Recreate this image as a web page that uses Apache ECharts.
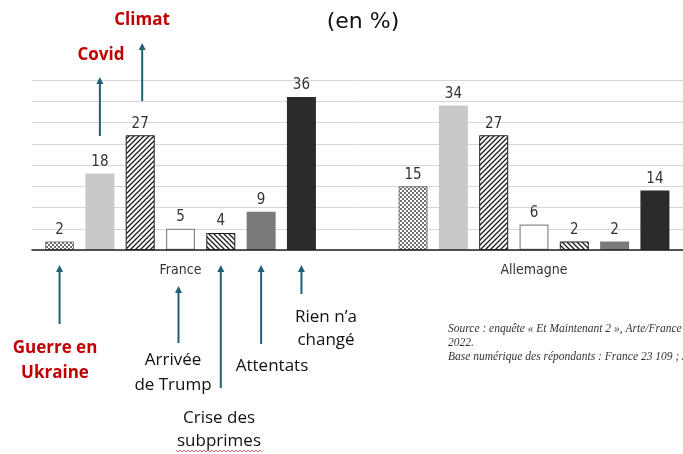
<!DOCTYPE html>
<html><head><meta charset="utf-8">
<script src="https://cdn.jsdelivr.net/npm/echarts@6/dist/echarts.min.js"></script>
<style>html,body{margin:0;padding:0;background:#fff}#c{width:683px;height:454px}</style>
</head><body><div id="c"></div>
<script>
// ---- data ----
const categories = ['France', 'Allemagne'];
const seriesNames = ['Guerre en Ukraine', 'Covid', 'Climat', 'Arrivée de Trump', 'Crise des subprimes', 'Attentats', "Rien n’a changé"];
const ukraine   = [2, 15];
const covid     = [18, 34];
const climat    = [27, 27];
const trump     = [5, 6];
const subprimes = [4, 2];
const attentats = [9, 2];
const rien      = [36, 14];
const yTicks = { min: 0, max: 40, interval: 5 };

// ---- patterns ----
function mkCanvas(w, h, draw) { const c = document.createElement('canvas'); c.width = w; c.height = h; const g = c.getContext('2d'); draw(g); return c; }
const checker = mkCanvas(4, 4, g => { g.fillStyle = '#fff'; g.fillRect(0,0,4,4); g.fillStyle = '#707070'; g.fillRect(0,0,2,2); g.fillRect(2,2,2,2); });
function hatch(dir) {
  return mkCanvas(5, 5, g => {
    g.fillStyle = '#fff'; g.fillRect(0,0,5,5);
    g.strokeStyle = '#1e1e1e'; g.lineWidth = 1.3;
    g.beginPath();
    if (dir > 0) { g.moveTo(-1,6); g.lineTo(6,-1); g.moveTo(-1,1); g.lineTo(1,-1); g.moveTo(4,6); g.lineTo(6,4); }
    else { g.moveTo(-1,-1); g.lineTo(6,6); g.moveTo(4,-1); g.lineTo(6,1); g.moveTo(-1,4); g.lineTo(1,6); }
    g.stroke();
  });
}
const styles = [
  { color: { image: checker, repeat: 'repeat' }, borderColor: '#7c7c7c', borderWidth: 1 },
  { color: '#c9c9c9' },
  { color: { image: hatch(1), repeat: 'repeat' }, borderColor: '#1e1e1e', borderWidth: 1 },
  { color: '#ffffff', borderColor: '#8a8a8a', borderWidth: 1.2 },
  { color: { image: hatch(-1), repeat: 'repeat' }, borderColor: '#1e1e1e', borderWidth: 1 },
  { color: '#7a7a7a' },
  { color: '#2b2b2b' }
];
const values = [ukraine, covid, climat, trump, subprimes, attentats, rien];
const narrow = "'Liberation Sans Narrow','DejaVu Sans Condensed',sans-serif";

const chart = echarts.init(document.getElementById('c'), null, { renderer: 'canvas' });
const option = {
  animation: false,
  backgroundColor: '#ffffff',
  grid: [
    { left: 32, right: 0, top: 80, height: 170, outerBoundsMode: 'none' },
    { left: 3.75, width: 707, top: 80, height: 170, outerBoundsMode: 'none' }
  ],
  xAxis: [
    { gridIndex: 0, type: 'category', data: [''], axisLine: { lineStyle: { color: '#222', width: 1.5 } }, axisTick: { show: false }, axisLabel: { show: false }, z: 5 },
    { gridIndex: 1, type: 'category', data: categories, axisLine: { show: false }, axisTick: { show: false },
      axisLabel: { margin: 13, color: '#333', fontSize: 14, fontFamily: narrow } }
  ],
  yAxis: [
    { gridIndex: 0, type: 'value', min: yTicks.min, max: yTicks.max, interval: yTicks.interval,
      axisLabel: { show: false }, axisLine: { show: false }, axisTick: { show: false },
      splitLine: { lineStyle: { color: '#d6d6d6', width: 1 } } },
    { gridIndex: 1, type: 'value', min: yTicks.min, max: yTicks.max, interval: yTicks.interval, show: false }
  ],
  series: values.map((v, i) => ({
    name: seriesNames[i], type: 'bar', xAxisIndex: 1, yAxisIndex: 1, data: v,
    barWidth: 29, barGap: '39%', itemStyle: styles[i],
    label: { show: true, position: 'top', distance: 4, color: '#333', fontSize: 15, fontFamily: narrow }
  }))
};
chart.setOption(option);

// ---- annotations ----
function barX(si, fallbackOffset) {
  try {
    const lay = chart.getModel().getSeriesByIndex(si).getData().getItemLayout(0);
    return lay.x + lay.width / 2;
  } catch (e) {
    return chart.convertToPixel({ xAxisIndex: 1 }, categories[0]) + fallbackOffset;
  }
}
const teal = '#215f74';
const red = '#c00000';
const arrowSpec = [
  { s: 0, y1: 324, y2: 265 },
  { s: 1, y1: 136, y2: 77 },
  { s: 2, y1: 101, y2: 43, dx: 2 },
  { s: 3, y1: 343, y2: 286, dx: -2 },
  { s: 4, y1: 388, y2: 265 },
  { s: 5, y1: 344, y2: 265 },
  { s: 6, y1: 294, y2: 265 }
];
const graphics = [];
arrowSpec.forEach(a => {
  const x = barX(a.s, (a.s - 3) * 40.3) + (a.dx || 0);
  graphics.push({ type: 'line', shape: { x1: x, y1: a.y1, x2: x, y2: a.y2 + 5 }, style: { stroke: teal, lineWidth: 2 } });
  graphics.push({ type: 'polygon', shape: { points: [[x, a.y2], [x - 3.5, a.y2 + 7], [x + 3.5, a.y2 + 7]] }, style: { fill: teal } });
});
const sans = "'Open Sans','DejaVu Sans',sans-serif";
function txt(t, x, y, size, color, weight, family) {
  graphics.push({ type: 'text', style: { text: t, x: x, y: y, fill: color, align: 'center', verticalAlign: 'middle',
    font: (weight || 'normal') + ' ' + size + 'px ' + (family || sans) } });
}
txt('(en %)', 363, 22, 22, '#111', 'normal', "'DejaVu Sans',sans-serif");
txt('Climat', 142, 20, 17, red, 'bold');
txt('Covid', 101, 55, 17, red, 'bold');
txt('Guerre en', 55, 348, 17, red, 'bold');
txt('Ukraine', 55, 373, 17, red, 'bold');
txt('Arrivée', 173, 360, 17, '#111');
txt('de Trump', 173, 385, 17, '#111');
txt('Crise des', 219, 418, 17, '#111');
txt('subprimes', 219, 441, 17, '#111');
txt('Attentats', 272, 366, 17, '#111');
txt('Rien n’a', 326, 317, 17, '#111');
txt('changé', 326, 340, 17, '#111');
// spell-check squiggle under "subprimes"
const sq = [];
for (let x = 176; x <= 262; x += 2) sq.push([x, 451 + ((x / 2) % 2 ? 1 : -1)]);
graphics.push({ type: 'polyline', shape: { points: sq }, style: { stroke: '#d04040', lineWidth: 0.8, fill: null } });
const serif = "italic 11.5px 'Liberation Serif','DejaVu Serif',serif";
[['Source : enquête « Et Maintenant 2 », Arte/France Télévisions,', 329],
 ['2022.', 343],
 ['Base numérique des répondants : France 23 109 ; Allemagne 10 003.', 357]].forEach(([t, y]) => {
  graphics.push({ type: 'text', style: { text: t, x: 448, y: y, fill: '#333', align: 'left', verticalAlign: 'middle', font: serif } });
});
chart.setOption({ graphic: graphics });
</script></body></html>
